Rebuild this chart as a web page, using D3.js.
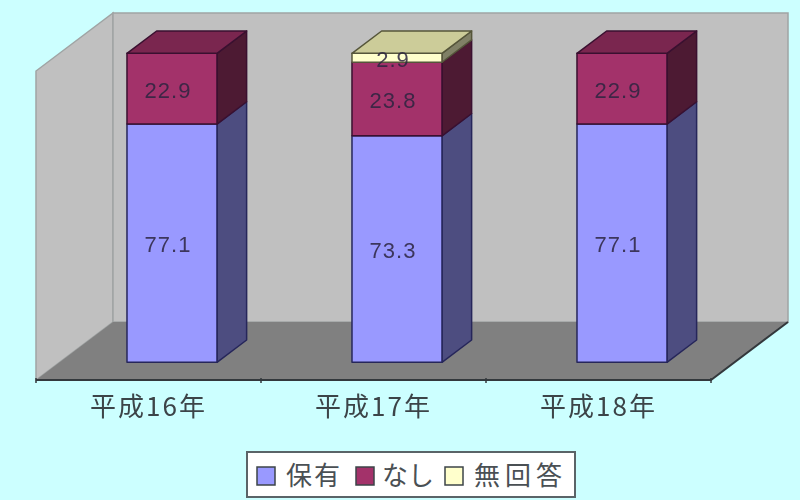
<!DOCTYPE html>
<html lang="ja">
<head>
<meta charset="utf-8">
<script src="https://cdn.jsdelivr.net/npm/d3@7"></script>
<style>
  html, body { margin: 0; padding: 0; background: #ccffff; }
  svg { display: block; filter: blur(0.7px); }
  text { font-family: "Liberation Sans", "Noto Sans CJK JP", sans-serif; }
</style>
</head>
<body>
<div class="canvas"></div>
<script>
const categories = ["平成16年", "平成17年", "平成18年"];
const seriesNames = ["保有", "なし", "無回答"];
const hoyu = [77.1, 73.3, 77.1];
const nashi = [22.9, 23.8, 22.9];
const mukaito = [0, 2.9, 0];
const yTicks = [0, 100];

const width = 800;
const height = 500;

const colors = {
  "保有": { front: "#9999ff", side: "#4d4d80", top: "#7a7acc", line: "#26265a" },
  "なし": { front: "#a3326a", side: "#4d1a33", top: "#7a264f", line: "#3a1030" },
  "無回答": { front: "#ffffcc", side: "#808066", top: "#cccc99", line: "#55553a" },
};
const legendStyle = {
  "保有": { x: 257, gap: 29, spacing: 2 },
  "なし": { x: 356, gap: 26, spacing: 0 },
  "無回答": { x: 445, gap: 29, spacing: 5 },
};

const rows = categories.map((c, i) => ({
  category: c,
  "保有": hoyu[i],
  "なし": nashi[i],
  "無回答": mukaito[i],
}));
const stacked = d3.stack().keys(seriesNames)(rows);

const x = d3.scaleBand().domain(categories).range([36, 711])
  .paddingInner(0.6).paddingOuter(0.3);
const y = d3.scaleLinear().domain(yTicks).range([380, 71]);
// depth axis of the 3d box, 0 = front plane, 1 = back wall
const zx = d3.scaleLinear().domain([0, 1]).range([0, 77]);
const zy = d3.scaleLinear().domain([0, 1]).range([0, -58]);
const barZ = [0.305, 0.69];

const pt = (px, v, z) => [px + zx(z), y(v) + zy(z)];
const poly = (pts) => pts.map((p) => p.join(",")).join(" ");

const svg = d3.select(".canvas").append("svg")
  .attr("width", width).attr("height", height);

const [x0, x1] = x.range();
const [v0, v1] = y.domain();

const walls = svg.append("g").attr("class", "walls");
walls.append("polygon")
  .attr("points", poly([pt(x0, v0, 0), pt(x0, v1, 0), pt(x0, v1, 1), pt(x0, v0, 1)]))
  .attr("fill", "#c0c0c0").attr("stroke", "#a0a4a4").attr("stroke-width", 1.5);
walls.append("polygon")
  .attr("points", poly([pt(x0, v0, 1), pt(x0, v1, 1), pt(x1, v1, 1), pt(x1, v0, 1)]))
  .attr("fill", "#c0c0c0").attr("stroke", "#a0a4a4").attr("stroke-width", 1.5);
walls.append("polygon")
  .attr("points", poly([pt(x0, v0, 0), pt(x0, v0, 1), pt(x1, v0, 1), pt(x1, v0, 0)]))
  .attr("fill", "#808080");
walls.append("polyline")
  .attr("points", poly([pt(x0, v0, 0), pt(x1, v0, 0), pt(x1, v0, 1)]))
  .attr("fill", "none").attr("stroke", "#33383c").attr("stroke-width", 2);

// ticks sit on the category boundaries
const ticks = svg.append("g").attr("class", "ticks");
d3.range(categories.length + 1).forEach((i) => {
  const tx = x0 + i * x.step();
  ticks.append("line")
    .attr("x1", tx).attr("x2", tx)
    .attr("y1", y(v0) - 2).attr("y2", y(v0) + 3)
    .attr("stroke", "#33383c").attr("stroke-width", 1.5);
});

const bars = svg.append("g").attr("class", "bars");
categories.forEach((c, i) => {
  const g = bars.append("g");
  const left = x(c);
  const right = left + x.bandwidth();
  const shown = stacked.filter((s) => s[i][1] - s[i][0] > 0);
  shown.forEach((s, k) => {
    const c0 = colors[s.key];
    const [a, b] = s[i];
    const [zf, zb] = barZ;
    g.append("polygon")
      .attr("points", poly([pt(right, a, zf), pt(right, b, zf), pt(right, b, zb), pt(right, a, zb)]))
      .attr("fill", c0.side).attr("stroke", c0.line).attr("stroke-width", 1.5)
      .attr("stroke-linejoin", "round");
    g.append("polygon")
      .attr("points", poly([pt(left, a, zf), pt(right, a, zf), pt(right, b, zf), pt(left, b, zf)]))
      .attr("fill", c0.front).attr("stroke", c0.line).attr("stroke-width", 1.5)
      .attr("stroke-linejoin", "round");
    if (k === shown.length - 1) {
      g.append("polygon")
        .attr("points", poly([pt(left, b, zf), pt(right, b, zf), pt(right, b, zb), pt(left, b, zb)]))
        .attr("fill", c0.top).attr("stroke", c0.line).attr("stroke-width", 1.5)
        .attr("stroke-linejoin", "round");
    }
  });
  // data labels go on after the faces so 2.9 overlaps the top face
  shown.forEach((s) => {
    const [a, b] = s[i];
    const p = pt(left + x.bandwidth() / 2, (a + b) / 2, barZ[0]);
    g.append("text")
      .attr("x", p[0] - 4).attr("y", p[1] + 1)
      .attr("dy", "0.36em")
      .attr("text-anchor", "middle")
      .attr("font-size", 22)
      .attr("letter-spacing", 1)
      .attr("fill", "#2b2440")
      .attr("fill-opacity", 0.85)
      .text(s[i].data[s.key]);
  });
});

const axis = svg.append("g")
  .attr("transform", `translate(0, ${y(v0)})`)
  .call(d3.axisBottom(x).tickSize(0).tickPadding(10));
axis.select(".domain").remove();
axis.selectAll("text")
  .attr("font-size", 26)
  .attr("letter-spacing", 2)
  .attr("dy", "1em")
  .attr("fill", "#3c4448")
  .style("font-family", '"Noto Sans CJK JP", sans-serif');

const legend = svg.append("g").attr("class", "legend");
legend.append("rect")
  .attr("x", 247).attr("y", 452).attr("width", 328).attr("height", 45)
  .attr("fill", "#ffffff").attr("stroke", "#5a6468").attr("stroke-width", 2);
seriesNames.forEach((name) => {
  const sx = legendStyle[name].x;
  legend.append("rect")
    .attr("x", sx).attr("y", 467).attr("width", 18).attr("height", 18)
    .attr("fill", colors[name].front)
    .attr("stroke", "#3c4448").attr("stroke-width", 1.5);
  legend.append("text")
    .attr("x", sx + legendStyle[name].gap)
    .attr("y", 476).attr("dy", "0.36em")
    .attr("font-size", 26)
    .attr("letter-spacing", legendStyle[name].spacing)
    .attr("fill", "#4a5054")
    .style("font-family", '"Noto Sans CJK JP", sans-serif')
    .text(name);
});
</script>
</body>
</html>
